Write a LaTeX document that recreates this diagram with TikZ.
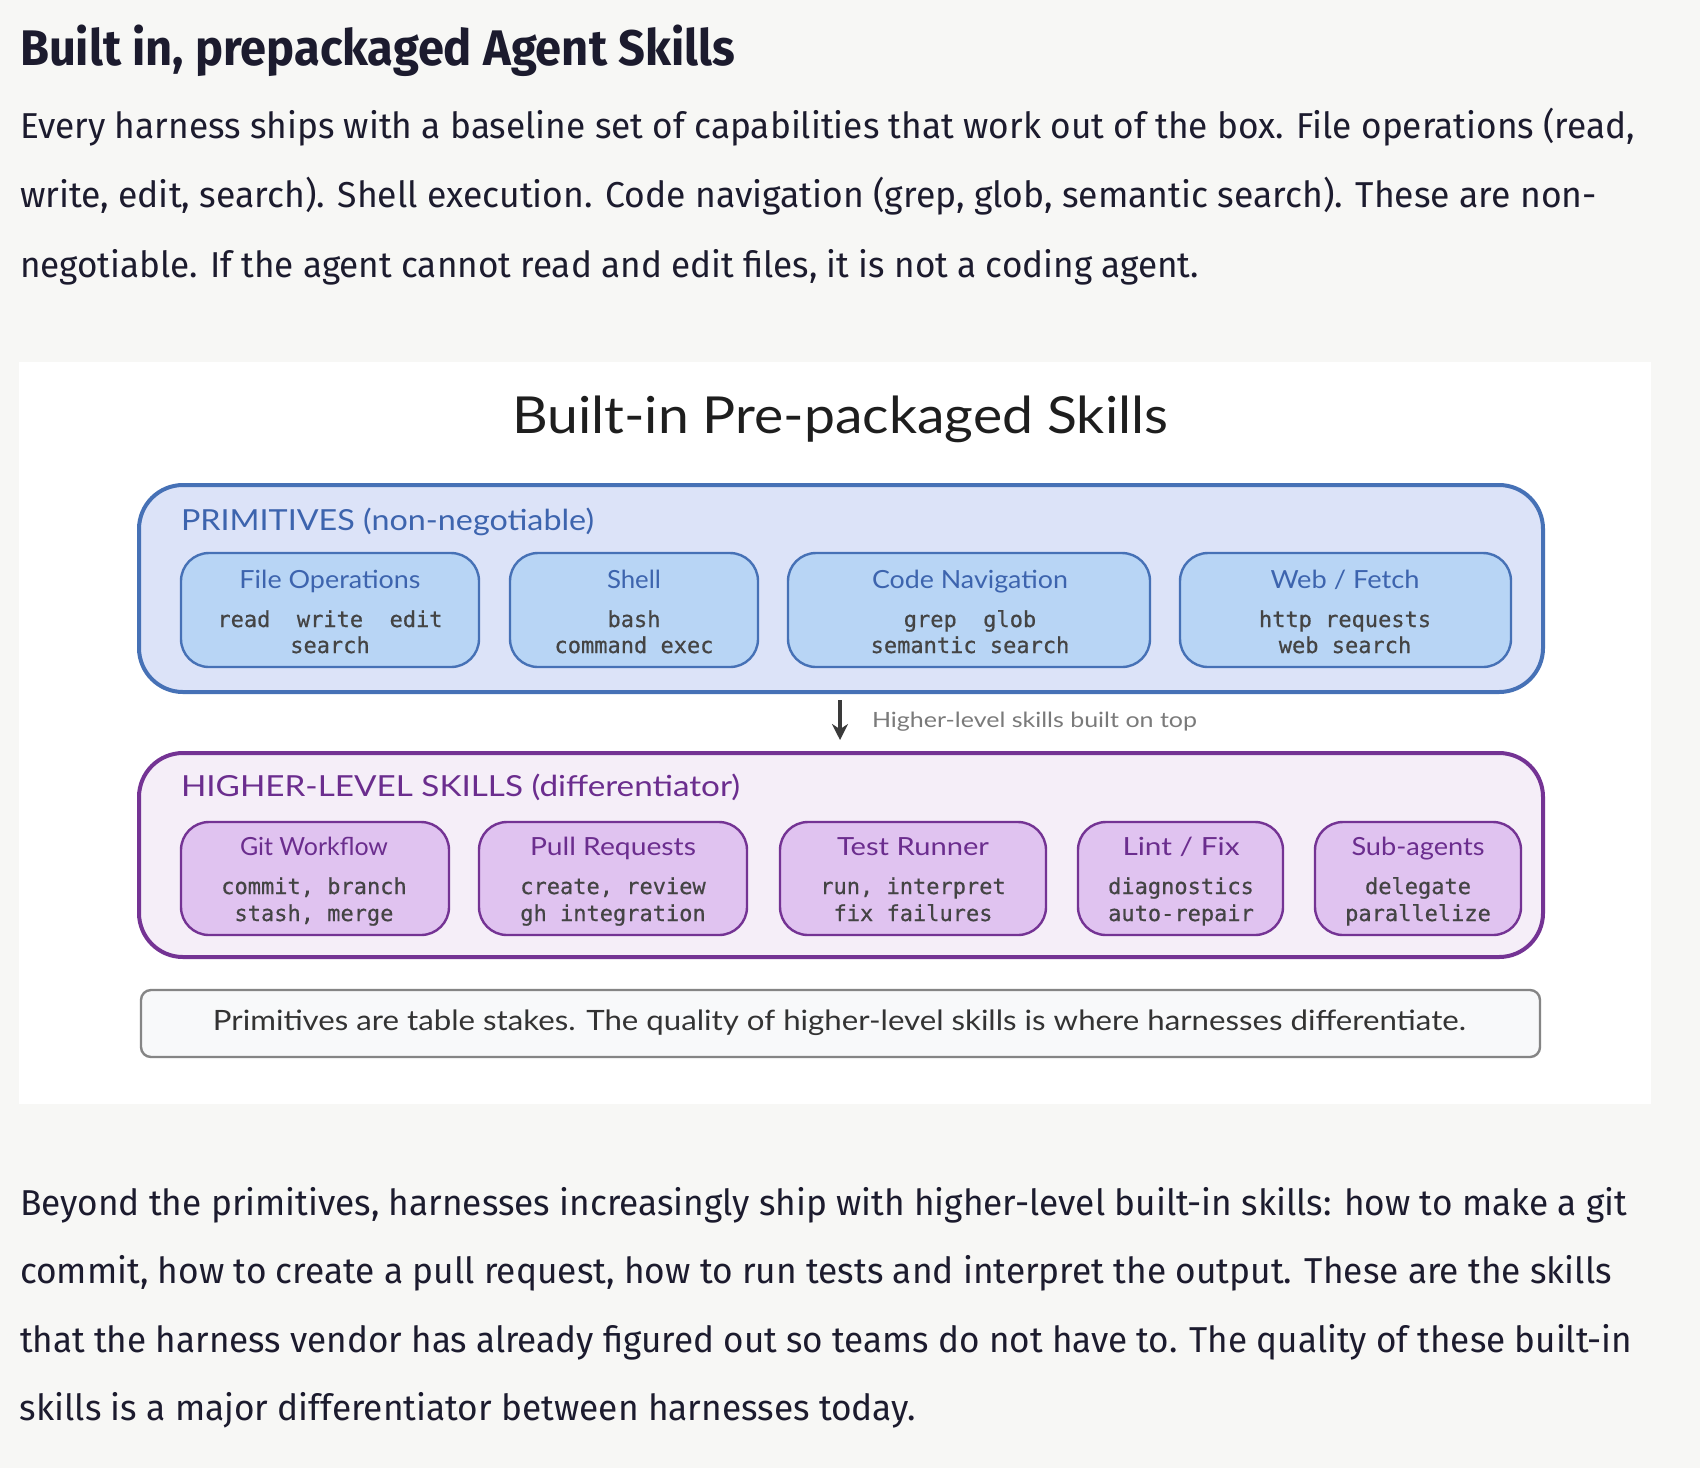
\documentclass[tikz,border=0pt]{standalone}
\usepackage{fontspec}
\usepackage{graphicx}
\setmainfont{Fira Sans}
\setmonofont{DejaVu Sans Mono}[FakeBold=0.6]
\newfontfamily\handfont{Lato}
\usetikzlibrary{arrows.meta}
\definecolor{pagebg}{HTML}{F7F7F5}
\definecolor{bodyc}{HTML}{1C1B2E}
\definecolor{primfill}{HTML}{DCE3F8}
\definecolor{primline}{HTML}{4671B6}
\definecolor{primtext}{HTML}{3D64AE}
\definecolor{primin}{HTML}{B8D5F5}
\definecolor{highfill}{HTML}{F5EEF8}
\definecolor{highline}{HTML}{743394}
\definecolor{hightext}{HTML}{6B2D8E}
\definecolor{highin}{HTML}{E0C3F0}
\definecolor{notefill}{HTML}{F8F9FA}
\definecolor{noteline}{HTML}{858585}
\definecolor{notetext}{HTML}{333333}
\definecolor{monoc}{HTML}{444444}
\definecolor{arrowc}{HTML}{3A3A3A}
\definecolor{arrowtext}{HTML}{7A7A7A}
\definecolor{titlec}{HTML}{1E1E1E}
\newcommand{\fitw}[2]{\resizebox{#1}{\height}{#2}}
\begin{document}
\begin{tikzpicture}[x=0.5pt,y=-0.5pt,
  txt/.style={inner sep=0pt,outer sep=0pt,anchor=base west},
  ctxt/.style={inner sep=0pt,outer sep=0pt,anchor=base},
  body/.style={txt,text=bodyc,font=\fontsize{18}{20}\selectfont},
  heading/.style={txt,text=bodyc,font=\fontsize{25}{28}\selectfont\bfseries},
  dtitle/.style={ctxt,text=titlec,font=\handfont\fontsize{25.5}{28}\selectfont},
  seclabel/.style={txt,font=\handfont\fontsize{14.5}{16}\selectfont},
  boxtitle/.style={ctxt,font=\handfont\fontsize{12.5}{14}\selectfont},
  mono/.style={ctxt,text=monoc,font=\ttfamily\fontsize{11}{13}\selectfont},
  outerbox/.style={draw,line width=2pt,rounded corners=22pt,inner sep=0pt,outer sep=0pt,minimum width=702pt},
  primbox/.style={draw=primline,fill=primin,line width=1.2pt,rounded corners=14pt,inner sep=0pt,outer sep=0pt,minimum height=57pt},
  highbox/.style={draw=highline,fill=highin,line width=1.2pt,rounded corners=14pt,inner sep=0pt,outer sep=0pt,minimum height=56.5pt},
  arr/.style={draw=arrowc,line width=1.6pt,-{Stealth[length=8pt,width=8pt]}}
]
\useasboundingbox (0,0) rectangle (1700,1468);
\fill[pagebg] (0,0) rectangle (1700,1468);
\fill[white] (19,362) rectangle (1651,1104);

% heading and first paragraph
\node[heading] (h1) at (20,65) {\fitw{357.5pt}{Built in, prepackaged Agent Skills}};
\node[body] (p1a) at (20,138) {\fitw{807.5pt}{Every harness ships with a baseline set of capabilities that work out of the box. File operations (read,}};
\node[body] (p1b) at (20,207) {\fitw{788.5pt}{write, edit, search). Shell execution. Code navigation (grep, glob, semantic search). These are non-}};
\node[body] (p1c) at (20,277) {\fitw{589.5pt}{negotiable. If the agent cannot read and edit files, it is not a coding agent.}};

% diagram title
\node[dtitle] (dt) at (840,433) {\fitw{328pt}{Built-in Pre-packaged Skills}};

% primitives
\node[outerbox,draw=primline,fill=primfill,minimum height=103.5pt] (prim) at (841,588.5) {};
\node[seclabel,text=primtext] (primlab) at (181,530) {\fitw{206.5pt}{PRIMITIVES (non-negotiable)}};

\node[primbox,minimum width=149pt] (file) at (330,610) {};
\node[primbox,minimum width=124pt] (shell) at (634,610) {};
\node[primbox,minimum width=181pt] (code) at (969,610) {};
\node[primbox,minimum width=165.5pt] (web) at (1345.5,610) {};

\node[boxtitle,text=primtext] (fileT) at (330,588) {\fitw{90.5pt}{File Operations}};
\node[mono] (fileA) at (330,627) {read\ \ write\ \ edit};
\node[mono] (fileB) at (330,653) {search};
\node[boxtitle,text=primtext] (shellT) at (634,588) {\fitw{27pt}{Shell}};
\node[mono] (shellA) at (634,627) {bash};
\node[mono] (shellB) at (634,653) {command exec};
\node[boxtitle,text=primtext] (codeT) at (970,588) {\fitw{98pt}{Code Navigation}};
\node[mono] (codeA) at (970,627) {grep\ \ glob};
\node[mono] (codeB) at (970,653) {semantic search};
\node[boxtitle,text=primtext] (webT) at (1345,588) {\fitw{74.5pt}{Web / Fetch}};
\node[mono] (webA) at (1345,627) {http requests};
\node[mono] (webB) at (1345,653) {web search};

% higher-level
\node[outerbox,draw=highline,fill=highfill,minimum height=102pt] (high) at (841,855) {};
\node[seclabel,text=hightext] (highlab) at (181,796) {\fitw{279.5pt}{HIGHER-LEVEL SKILLS (differentiator)}};

\node[highbox,minimum width=134pt] (git) at (315,878.5) {};
\node[highbox,minimum width=134pt] (pr) at (613,878.5) {};
\node[highbox,minimum width=133pt] (test) at (913,878.5) {};
\node[highbox,minimum width=102.5pt] (lint) at (1180.5,878.5) {};
\node[highbox,minimum width=103pt] (sub) at (1418,878.5) {};

\node[boxtitle,text=hightext] (gitT) at (314,855) {\fitw{74pt}{Git Workflow}};
\node[mono] (gitA) at (314,894) {commit, branch};
\node[mono] (gitB) at (314,921) {stash, merge};
\node[boxtitle,text=hightext] (prT) at (613,855) {\fitw{83pt}{Pull Requests}};
\node[mono] (prA) at (613,894) {create, review};
\node[mono] (prB) at (613,921) {gh integration};
\node[boxtitle,text=hightext] (testT) at (913,855) {\fitw{76pt}{Test Runner}};
\node[mono] (testA) at (913,894) {run, interpret};
\node[mono] (testB) at (913,921) {fix failures};
\node[boxtitle,text=hightext] (lintT) at (1181,855) {\fitw{58.5pt}{Lint / Fix}};
\node[mono] (lintA) at (1181,894) {diagnostics};
\node[mono] (lintB) at (1181,921) {auto-repair};
\node[boxtitle,text=hightext] (subT) at (1418,855) {\fitw{66.5pt}{Sub-agents}};
\node[mono] (subA) at (1418,894) {delegate};
\node[mono] (subB) at (1418,921) {parallelize};

% arrow
\draw[arr] ([xshift=-0.5pt,yshift=-4pt]prim.south) -- ([xshift=-0.5pt,yshift=6.5pt]high.north);
\node[txt,text=arrowtext,font=\handfont\fontsize{10.5}{12}\selectfont] (arrlab) at (872,727) {\fitw{162.5pt}{Higher-level skills built on top}};

% note
\node[draw=noteline,fill=notefill,line width=1.2pt,rounded corners=5pt,inner sep=0pt,outer sep=0pt,minimum width=699.5pt,minimum height=33.5pt] (note) at (840.5,1023.5) {};
\node[ctxt,text=notetext,font=\handfont\fontsize{14}{16}\selectfont] (notet) at (839.5,1030) {\fitw{626.5pt}{Primitives are table stakes. The quality of higher-level skills is where harnesses differentiate.}};

% second paragraph
\node[body] (p2a) at (20,1215) {\fitw{803.5pt}{Beyond the primitives, harnesses increasingly ship with higher-level built-in skills: how to make a git}};
\node[body] (p2b) at (20,1283) {\fitw{796pt}{commit, how to create a pull request, how to run tests and interpret the output. These are the skills}};
\node[body] (p2c) at (20,1352) {\fitw{806pt}{that the harness vendor has already figured out so teams do not have to. The quality of these built-in}};
\node[body] (p2d) at (20,1420) {\fitw{448pt}{skills is a major differentiator between harnesses today.}};
\end{tikzpicture}
\end{document}
